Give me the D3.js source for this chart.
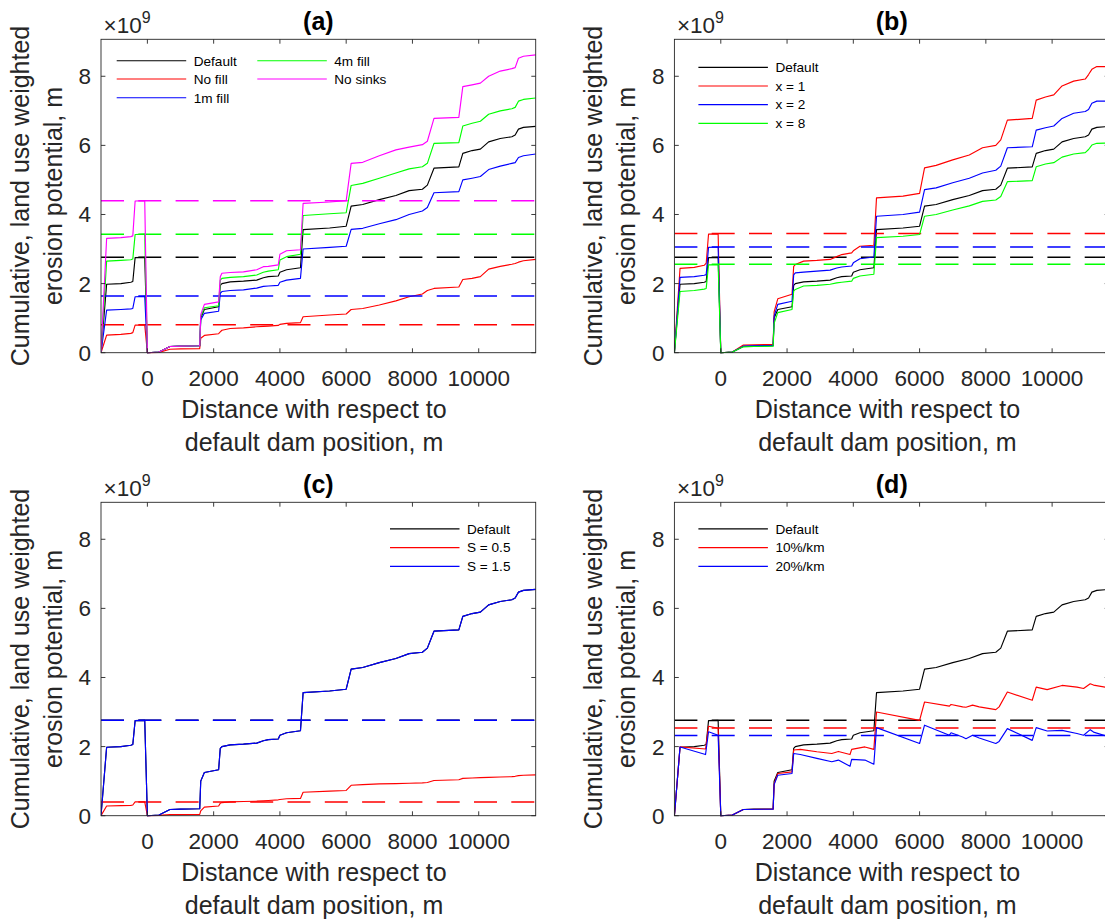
<!DOCTYPE html>
<html><head><meta charset="utf-8">
<script src="https://cdn.jsdelivr.net/npm/d3@7"></script>
<style>body{margin:0;background:#fff} svg{display:block}</style>
</head><body>
<svg id="chart" width="1105" height="924"></svg>
<script>
// ---------- DATA ----------
const dist = [-1400,-1230,-800,-500,-440,-370,-80,0,350,680,1000,1580,1610,1720,2150,2200,2250,2500,2900,3300,3500,3650,3950,4000,4200,4620,4700,5500,6000,6150,6500,7000,7500,7900,8300,8450,8650,9400,9520,9800,10050,10300,10650,11000,11100,11200,11350,11720];

const defaultVals = [0,1.98,2.0,2.04,2.06,2.75,2.76,0,0.02,0.18,0.19,0.2,1.0,1.25,1.33,1.95,2.0,2.05,2.07,2.1,2.17,2.2,2.22,2.33,2.4,2.46,3.56,3.61,3.66,4.24,4.29,4.43,4.55,4.69,4.73,4.85,5.34,5.38,5.77,5.85,5.89,6.1,6.2,6.25,6.3,6.47,6.52,6.55];

// (a) fill variants
const noFill  = [0,0.51,0.53,0.56,0.58,0.8,0.8,0,0.01,0.1,0.11,0.12,0.42,0.5,0.55,0.6,0.65,0.7,0.72,0.75,0.76,0.77,0.79,0.82,0.85,0.87,1.04,1.09,1.12,1.25,1.28,1.38,1.5,1.62,1.7,1.8,1.86,1.9,2.12,2.15,2.2,2.42,2.5,2.56,2.58,2.62,2.66,2.7];
const fill1m  = [0,1.23,1.25,1.27,1.28,1.62,1.63,0,0.02,0.18,0.19,0.2,0.95,1.14,1.2,1.72,1.77,1.8,1.82,1.87,1.92,1.93,1.95,2.04,2.1,2.15,3.0,3.05,3.08,3.57,3.6,3.73,3.85,4.0,4.1,4.2,4.63,4.66,5.0,5.05,5.1,5.3,5.4,5.48,5.5,5.65,5.7,5.75];
const fill4m  = [0,2.65,2.67,2.69,2.71,3.42,3.43,0,0.02,0.18,0.19,0.2,1.05,1.3,1.36,2.1,2.15,2.18,2.2,2.25,2.33,2.36,2.4,2.68,2.78,2.85,3.97,4.02,4.05,4.84,4.9,5.05,5.2,5.32,5.38,5.48,6.06,6.08,6.56,6.64,6.7,6.9,7.0,7.06,7.1,7.28,7.33,7.37];
const noSinks = [0,3.31,3.33,3.36,3.38,4.39,4.4,0,0.02,0.18,0.19,0.2,1.1,1.4,1.47,2.2,2.3,2.32,2.34,2.4,2.49,2.5,2.54,2.85,2.95,2.98,4.32,4.36,4.4,5.48,5.51,5.7,5.87,5.95,6.02,6.12,6.78,6.81,7.7,7.75,7.8,8.0,8.15,8.22,8.25,8.52,8.58,8.62];

// (b) exponent variants
const x1 = [0,2.44,2.47,2.53,2.59,3.43,3.44,0,0.02,0.22,0.23,0.24,1.18,1.56,1.69,2.5,2.55,2.65,2.67,2.7,2.78,2.84,2.89,2.95,3.08,3.11,4.48,4.53,4.61,5.35,5.42,5.58,5.72,5.93,6.0,6.16,6.73,6.78,7.31,7.4,7.46,7.72,7.86,7.92,8.05,8.2,8.28,8.28];
const x2 = [0,2.18,2.2,2.24,2.26,3.05,3.06,0,0.02,0.19,0.2,0.21,1.06,1.4,1.49,2.25,2.31,2.33,2.36,2.39,2.45,2.48,2.51,2.6,2.72,2.77,3.95,4.0,4.07,4.72,4.77,4.92,5.05,5.2,5.28,5.4,5.93,5.96,6.44,6.51,6.56,6.78,6.93,6.98,7.04,7.22,7.28,7.28];
const x8 = [0,1.77,1.8,1.84,1.86,2.54,2.55,0,0.02,0.17,0.18,0.19,0.85,1.16,1.25,1.78,1.83,1.93,1.95,1.98,2.02,2.04,2.07,2.15,2.22,2.27,3.33,3.37,3.42,3.95,4.0,4.13,4.25,4.38,4.42,4.52,4.95,4.98,5.38,5.46,5.5,5.66,5.75,5.79,5.88,6.01,6.06,6.07];

// (c) S variants
const s05 = [0,0.28,0.29,0.3,0.31,0.4,0.4,0,0.01,0.03,0.03,0.04,0.14,0.25,0.28,0.36,0.38,0.4,0.41,0.42,0.43,0.44,0.46,0.47,0.49,0.5,0.68,0.71,0.73,0.88,0.9,0.92,0.93,0.94,0.95,0.96,1.02,1.04,1.08,1.09,1.1,1.11,1.12,1.13,1.14,1.16,1.17,1.18];
const s15 = [0,1.98,2.0,2.04,2.06,2.75,2.76,0,0.02,0.18,0.19,0.2,1.0,1.25,1.33,1.95,2.0,2.05,2.07,2.1,2.17,2.2,2.22,2.33,2.4,2.46,3.56,3.61,3.66,4.24,4.29,4.43,4.55,4.69,4.73,4.85,5.34,5.38,5.77,5.85,5.89,6.1,6.2,6.25,6.3,6.47,6.52,6.55];

// (d) decay variants
const distD = [-1400,-1230,-460,-370,-80,0,350,680,1580,1610,1720,2150,2200,2400,2900,3350,3550,3900,3950,4350,4620,4700,6000,6150,6900,6950,7300,7400,7600,7800,8300,8400,8650,9400,9520,9850,10300,10750,10950,11150,11250,11720];
const decay10 = [0,1.99,1.93,2.59,2.53,0,0.02,0.18,0.19,0.92,1.22,1.27,1.9,1.92,1.85,1.8,1.86,1.77,1.92,1.99,1.92,3.0,2.76,3.29,3.17,3.22,3.15,3.14,3.2,3.15,3.07,3.15,3.58,3.34,3.72,3.65,3.77,3.72,3.68,3.82,3.78,3.7];
const decay20 = [0,1.99,1.77,2.43,2.33,0,0.02,0.18,0.19,0.9,1.17,1.22,1.8,1.77,1.66,1.56,1.61,1.43,1.63,1.61,1.49,2.55,2.09,2.62,2.33,2.4,2.28,2.23,2.33,2.25,2.09,2.15,2.52,2.18,2.55,2.45,2.47,2.38,2.33,2.49,2.42,2.28];

// dashed reference levels (x 1e9)
const refA = [2.76, 0.81, 1.64, 3.43, 4.40];
const refB = [2.76, 3.45, 3.06, 2.56];
const refC = [2.76, 0.40, 2.76];
const refD = [2.76, 2.54, 2.32];

const xTicks = [0, 2000, 4000, 6000, 8000, 10000];
const yTicks = [0, 2, 4, 6, 8];
const titles = ["(a)", "(b)", "(c)", "(d)"];

// ---------- DRAW ----------
const svg = d3.select("#chart");
const F = {left: 101, right: 535.7, top: 39.3, bottom: 352.7};
const FONT = "'Liberation Sans', Arial, Helvetica, sans-serif";
const AX = "#262626";

const panels = [
  {dx: 0, dy: 0, title: titles[0],
   series: [
     {name: "Default", color: "#000000", x: dist, y: defaultVals, ref: refA[0], col: 0, row: 0},
     {name: "No fill", color: "#ff0000", x: dist, y: noFill, ref: refA[1], col: 0, row: 1},
     {name: "1m fill", color: "#0000ff", x: dist, y: fill1m, ref: refA[2], col: 0, row: 2},
     {name: "4m fill", color: "#00ff00", x: dist, y: fill4m, ref: refA[3], col: 1, row: 0},
     {name: "No sinks", color: "#ff00ff", x: dist, y: noSinks, ref: refA[4], col: 1, row: 1}],
   legend: {cols: [15.7, 156.3], rows: [21.4, 39.7, 58.4]}},
  {dx: 573.4, dy: 0, title: titles[1],
   series: [
     {name: "Default", color: "#000000", x: dist, y: defaultVals, ref: refB[0], col: 0, row: 0},
     {name: "x = 1", color: "#ff0000", x: dist, y: x1, ref: refB[1], col: 0, row: 1},
     {name: "x = 2", color: "#0000ff", x: dist, y: x2, ref: refB[2], col: 0, row: 2},
     {name: "x = 8", color: "#00ff00", x: dist, y: x8, ref: refB[3], col: 0, row: 3}],
   legend: {cols: [24], rows: [28, 46.7, 65.3, 84]}},
  {dx: 0, dy: 463, title: titles[2],
   series: [
     {name: "Default", color: "#000000", x: dist, y: defaultVals, ref: refC[0], col: 0, row: 0},
     {name: "S = 0.5", color: "#ff0000", x: dist, y: s05, ref: refC[1], col: 0, row: 1},
     {name: "S = 1.5", color: "#0000ff", x: dist, y: s15, ref: refC[2], col: 0, row: 2}],
   legend: {cols: [289], rows: [26.6, 45.3, 64]}},
  {dx: 573.4, dy: 463, title: titles[3],
   series: [
     {name: "Default", color: "#000000", x: dist, y: defaultVals, ref: refD[0], col: 0, row: 0},
     {name: "10%/km", color: "#ff0000", x: distD, y: decay10, ref: refD[1], col: 0, row: 1},
     {name: "20%/km", color: "#0000ff", x: distD, y: decay20, ref: refD[2], col: 0, row: 2}],
   legend: {cols: [24], rows: [26.6, 45.3, 64]}}
];

panels.forEach((p, pi) => {
  const L = F.left + p.dx, R = F.right + p.dx, T = F.top + p.dy, B = F.bottom + p.dy;
  const x = d3.scaleLinear().domain([-1400, 11720]).range([L, R]);
  const y = d3.scaleLinear().domain([0, 9.07]).range([B, T]);
  const g = svg.append("g");

  const clipId = "clip" + pi;
  g.append("clipPath").attr("id", clipId).append("rect")
    .attr("x", L).attr("y", T - 2).attr("width", R - L).attr("height", B - T + 4);

  const plot = g.append("g").attr("clip-path", `url(#${clipId})`);
  const line = d3.line().x(d => x(d[0])).y(d => y(d[1]));

  p.series.forEach(s => {
    const pts = s.x.map((xv, i) => [xv, s.y[i]]);
    plot.append("path").attr("d", line(pts)).attr("fill", "none")
      .attr("stroke", s.color).attr("stroke-width", 1.15).attr("stroke-linejoin", "round");
    plot.append("line").attr("x1", x(-1400)).attr("x2", x(11720))
      .attr("y1", y(s.ref)).attr("y2", y(s.ref))
      .attr("stroke", s.color).attr("stroke-width", 1.5).attr("stroke-dasharray", "23,14.3");
  });

  // frame
  g.append("rect").attr("x", L).attr("y", T).attr("width", R - L).attr("height", B - T)
    .attr("fill", "none").attr("stroke", AX).attr("stroke-width", 0.9);

  const tl = 4.4;
  xTicks.forEach(t => {
    const xx = x(t);
    g.append("line").attr("x1", xx).attr("x2", xx).attr("y1", B).attr("y2", B - tl).attr("stroke", AX).attr("stroke-width", 0.9);
    g.append("line").attr("x1", xx).attr("x2", xx).attr("y1", T).attr("y2", T + tl).attr("stroke", AX).attr("stroke-width", 0.9);
    g.append("text").attr("x", xx).attr("y", B + 33.5).attr("text-anchor", "middle")
      .attr("font-family", FONT).attr("font-size", 22.5).attr("fill", AX).text(d3.format("d")(t));
  });
  yTicks.forEach(t => {
    const yy = y(t);
    g.append("line").attr("x1", L).attr("x2", L + tl).attr("y1", yy).attr("y2", yy).attr("stroke", AX).attr("stroke-width", 0.9);
    g.append("line").attr("x1", R).attr("x2", R - tl).attr("y1", yy).attr("y2", yy).attr("stroke", AX).attr("stroke-width", 0.9);
    g.append("text").attr("x", L - 10).attr("y", yy + 8).attr("text-anchor", "end")
      .attr("font-family", FONT).attr("font-size", 22.5).attr("fill", AX).text(t);
  });

  // exponent
  const ex = g.append("text").attr("x", L + 2.5).attr("y", T - 6).attr("font-family", FONT)
    .attr("font-size", 22.5).attr("fill", AX);
  ex.append("tspan").text("\u00d710");
  ex.append("tspan").attr("dy", -10).attr("font-size", 16).text("9");

  // title
  g.append("text").attr("x", (L + R) / 2).attr("y", T - 9).attr("text-anchor", "middle")
    .attr("font-family", FONT).attr("font-size", 25).attr("font-weight", "bold").attr("fill", "#000").text(p.title);

  // x label
  const cx = L + 213;
  g.append("text").attr("x", cx).attr("y", B + 65.5).attr("text-anchor", "middle")
    .attr("font-family", FONT).attr("font-size", 25).attr("fill", AX).text("Distance with respect to");
  g.append("text").attr("x", cx).attr("y", B + 98).attr("text-anchor", "middle")
    .attr("font-family", FONT).attr("font-size", 25).attr("fill", AX).text("default dam position, m");

  // y label
  const cy = (T + B) / 2;
  g.append("text").attr("transform", `translate(${L - 72},${cy}) rotate(-90)`).attr("text-anchor", "middle")
    .attr("font-family", FONT).attr("font-size", 25).attr("fill", AX).text("Cumulative,  land use weighted");
  g.append("text").attr("transform", `translate(${L - 39},${cy}) rotate(-90)`).attr("text-anchor", "middle")
    .attr("font-family", FONT).attr("font-size", 25).attr("fill", AX).text("erosion potential, m");

  // legend
  p.series.forEach(s => {
    const lx = L + p.legend.cols[s.col], ly = T + p.legend.rows[s.row];
    g.append("line").attr("x1", lx).attr("x2", lx + 69.5).attr("y1", ly).attr("y2", ly)
      .attr("stroke", s.color).attr("stroke-width", 1.15);
    g.append("text").attr("x", lx + 77).attr("y", ly + 4.8).attr("font-family", FONT)
      .attr("font-size", 13.6).attr("fill", "#000").text(s.name);
  });
});
</script>
</body></html>
